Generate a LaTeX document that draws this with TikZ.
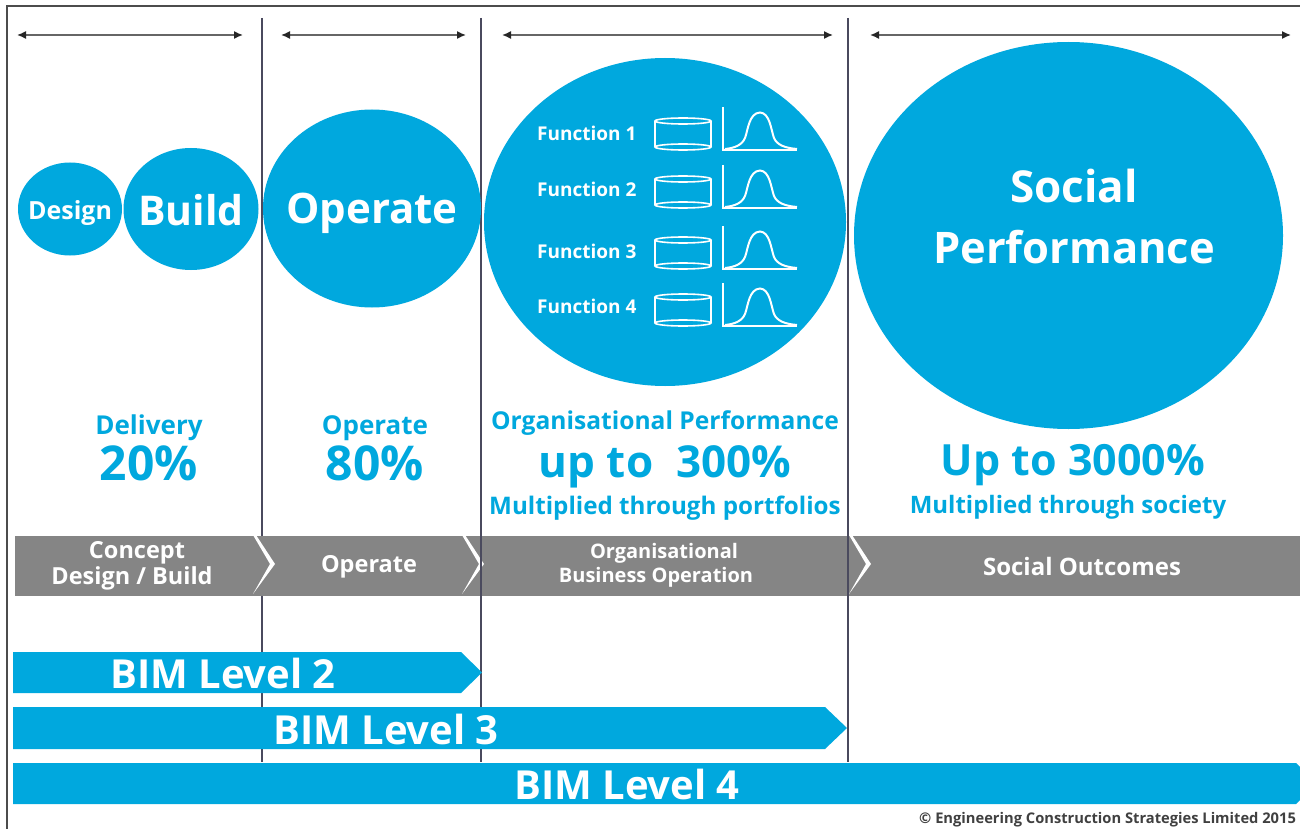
\documentclass[tikz,border=0pt]{standalone}
\usepackage{fontspec}
\setmainfont{Open Sans}
\usetikzlibrary{shapes.geometric,arrows.meta}
\definecolor{bimblue}{HTML}{00A8DE}
\definecolor{bandgrey}{HTML}{858585}
\definecolor{rulecol}{HTML}{4A4A5E}
\newcommand{\fsz}[1]{\fontsize{#1}{#1}\selectfont\bfseries}
\tikzset{
  x=1pt,y=-1pt,
  rulev/.style={draw=rulecol,line width=2.2pt},
  span/.style={draw=black!60,line width=1.5pt,{Latex[length=9pt,width=8pt,black!85]}-{Latex[length=9pt,width=8pt,black!85]}},
  bubble/.style={ellipse,fill=bimblue,inner sep=0pt},
  bubbletxt/.style={text=white,inner sep=0pt,align=center},
  bluetxt/.style={text=bimblue,inner sep=0pt,align=center},
  bandtxt/.style={text=white,inner sep=0pt,align=center},
  bartxt/.style={text=white,inner sep=0pt},
  functxt/.style={text=white,inner sep=0pt,anchor=west},
  iconline/.style={draw=white,line width=2pt},
  fnicon/.pic={
    \draw[iconline] (-68,-29) -- (-68,-3);
    \draw[iconline] (-12,-29) -- (-12,-3);
    \draw[iconline,line width=1.6pt] (-40,-29) ellipse[x radius=28,y radius=3];
    \draw[iconline,line width=1.6pt] (-40,-3) ellipse[x radius=28,y radius=3];
    \draw[iconline] (0,-43) -- (0,0) -- (74,0);
    \draw[iconline] (2,-1) .. controls (12,-2) and (19,-5) .. (22,-12) .. controls (25,-20) and (26,-37) .. (37,-37.5) .. controls (47,-37) and (48,-20) .. (51,-12) .. controls (54,-5) and (62,-2) .. (74,-1);
  },
  chevron/.pic={
    \fill[white] (2,-29) -- (21,0) -- (-1,30) -- (16,0) -- (-1,-29) -- cycle;
  }
}
\begin{document}
\begin{tikzpicture}
\useasboundingbox (0,0) rectangle (1300,829);
\clip (0,0) rectangle (1300,829);
\fill[white] (0,0) rectangle (1300,829);
% frame
\draw[draw=black!70,line width=1.6pt] (7,829) -- (7,6) -- (1300,6);
% column rules
\coordinate (ra1) at (262,18); \coordinate (ra2) at (262,762);
\coordinate (rb1) at (481,18); \coordinate (rb2) at (481,762);
\coordinate (rc1) at (848,18); \coordinate (rc2) at (848,762);
\draw[rulev] (ra1) -- (ra2);
% span arrows
\coordinate (sa1) at (17,35); \coordinate (sa2) at (243,35);
\coordinate (sb1) at (281,35); \coordinate (sb2) at (466,35);
\coordinate (sc1) at (502,35); \coordinate (sc2) at (833,35);
\coordinate (sd1) at (870,35); \coordinate (sd2) at (1291,35);
\draw[span] (sa1) -- (sa2);
\draw[span] (sb1) -- (sb2);
\draw[span] (sc1) -- (sc2);
\draw[span] (sd1) -- (sd2);
% band
\fill[bandgrey] (15,536) rectangle (1300,596);
\pic at (254,564) {chevron};
\pic at (463,564) {chevron};
\pic at (850,564) {chevron};
\draw[rulev] (rb1) -- (rb2);
\draw[rulev] (rc1) -- (rc2);
% bubbles
\node[bubble,minimum width=104pt,minimum height=93pt] (design) at (70,209) {};
\node[bubble,minimum width=135pt,minimum height=122pt] (build) at (191,209) {};
\node[bubble,minimum width=218pt,minimum height=198pt] (operate) at (372,208.5) {};
\node[bubble,minimum width=362pt,minimum height=328pt] (func) at (665,222) {};
\node[bubble,minimum width=429pt,minimum height=387pt] (social) at (1068.5,235.5) {};
\node[bubbletxt] (designt) at (70,213) {\fsz{25}Design};
\node[bubbletxt] (buildt) at (191,210) {\fsz{41}Build};
\node[bubbletxt] (operatet) at (372,213) {\fsz{42}Operate};
\node[bubbletxt] (soc1) at (1074,186) {\fsz{44}Social};
\node[bubbletxt] (soc2) at (1074,247) {\fsz{43.5}Performance};
% functions
\node[functxt] (f1) at (537,133.5) {\fsz{19}Function 1};
\node[functxt] (f2) at (537,189.5) {\fsz{19}Function 2};
\node[functxt] (f3) at (537,251.5) {\fsz{19}Function 3};
\node[functxt] (f4) at (537,306.5) {\fsz{19}Function 4};
\pic at (723,150) {fnicon};
\pic at (723,208) {fnicon};
\pic at (723,269) {fnicon};
\pic at (723,326) {fnicon};
% percentages
\node[bluetxt] (d1) at (149,428) {\fsz{26}Delivery};
\node[bluetxt] (d2) at (149,463) {\fsz{48}20\%};
\node[bluetxt] (o1) at (375,428) {\fsz{26}Operate};
\node[bluetxt] (o2) at (375,463) {\fsz{48}80\%};
\node[bluetxt] (p1) at (665,423) {\fsz{24.6}Organisational Performance};
\node[bluetxt] (p2) at (665,467) {\fsz{44}up to\ \ 300\%};
\node[bluetxt] (p3) at (665,508) {\fsz{24.2}Multiplied through portfolios};
\node[bluetxt] (q1) at (1073,465) {\fsz{43}Up to 3000\%};
\node[bluetxt] (q2) at (1068,507) {\fsz{24}Multiplied through society};
% band text
\node[bandtxt] (b1) at (137,553) {\fsz{23.5}Concept};
\node[bandtxt] (b2) at (132,578) {\fsz{23.5}Design / Build};
\node[bandtxt] (b3) at (369,567) {\fsz{23.5}Operate};
\node[bandtxt] (b4) at (664,553) {\fsz{20}Organisational};
\node[bandtxt] (b5) at (656,577) {\fsz{20}Business Operation};
\node[bandtxt] (b6) at (1082,566) {\fsz{24}Social Outcomes};
% BIM bars
\fill[bimblue] (13,652) -- (461,652) -- (482,672.5) -- (461,693) -- (13,693) -- cycle;
\fill[bimblue] (13,707) -- (825,707) -- (847,728) -- (825,749) -- (13,749) -- cycle;
\fill[bimblue] (13,763) -- (1296,763) -- (1300,767) -- (1300,800) -- (1296,804) -- (13,804) -- cycle;
\node[bartxt] (l2) at (223,673) {\fsz{40}BIM Level 2};
\node[bartxt] (l3) at (386,729) {\fsz{40}BIM Level 3};
\node[bartxt] (l4) at (627,784) {\fsz{40}BIM Level 4};
\node[inner sep=0pt,anchor=west,text=black!75] (copy) at (919,820) {\fontsize{14.7}{16}\selectfont\bfseries © Engineering Construction Strategies Limited 2015};
\end{tikzpicture}
\end{document}
